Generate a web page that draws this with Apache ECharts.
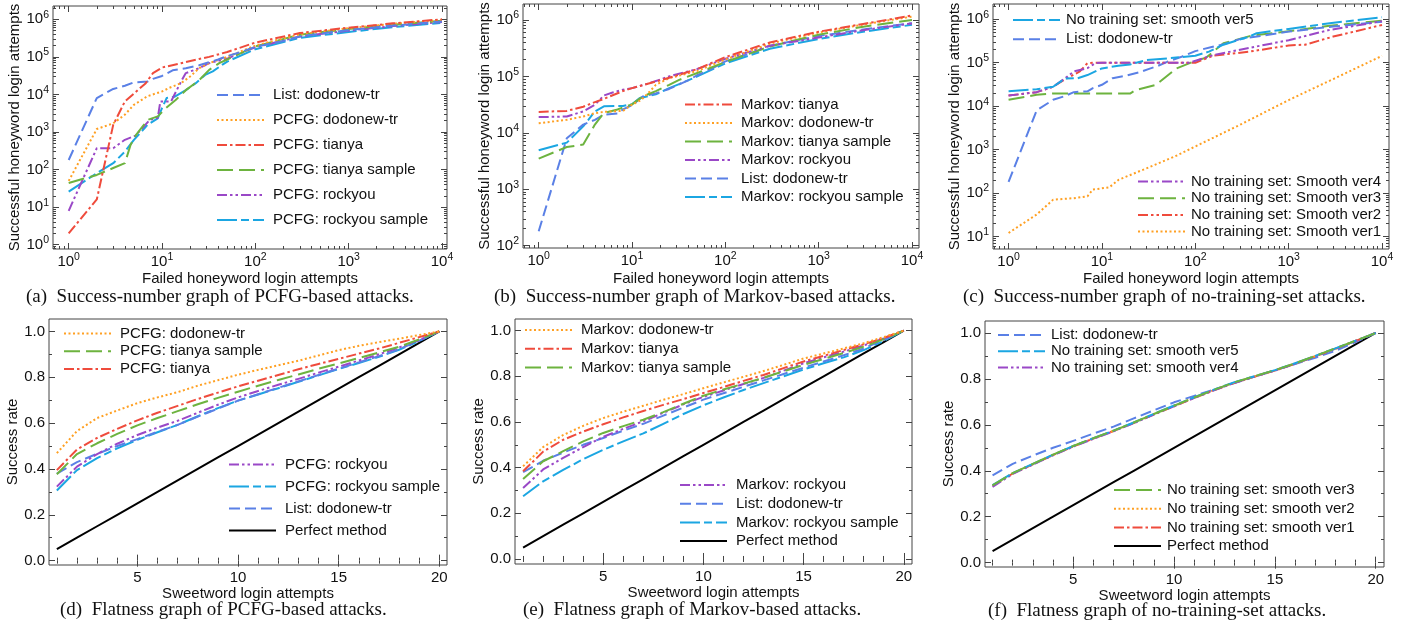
<!DOCTYPE html>
<html><head><meta charset="utf-8">
<script src="https://cdn.jsdelivr.net/npm/echarts@6/dist/echarts.min.js"></script>
<style>html,body{margin:0;padding:0;background:#fff}#c{width:1411px;height:627px}</style>
</head><body><div id="c"></div>
<script>
// ---------------- DATA ----------------
// Success-number graphs: [failed attempts, successful attempts]
const listSN = [[1,180],[2,8000],[3,14000],[4,17000],[5,21000],[7,22000],[8,26000],[10,31000],[13,44000],[18,50000],[25,60000],[32,72000],[40,85000],[50,105000],[70,135000],[100,185000],[150,230000],[200,265000],[300,350000],[1000,520000],[3000,680000],[10000,880000]];
// (a) PCFG
const pcfgDodonew = [[1,50],[2,1200],[3,1700],[4,2900],[5,5300],[7,9000],[10,12000],[12,15000],[16,20000],[20,30000],[25,50000],[32,68000],[50,100000],[100,200000],[300,400000],[1000,580000],[3000,760000],[10000,970000]];
const pcfgTianya = [[1,2],[2,16],[3,1550],[4,6500],[5,10500],[6.7,20000],[8,37000],[10,52000],[16,68000],[25,88000],[32,100000],[50,135000],[100,240000],[300,430000],[1000,600000],[3000,780000],[10000,1000000]];
const pcfgTianyaS = [[1,44],[2,72],[3,110],[4,148],[4.6,450],[5.2,800],[6,1260],[7,2100],[9,2600],[11,4300],[14,7100],[18,13000],[25,24000],[32,45000],[41,68000],[50,85000],[100,190000],[300,390000],[1000,550000],[3000,720000],[10000,920000]];
const pcfgRockyou = [[1,8],[2,370],[3,370],[4,620],[5.2,800],[7.4,2100],[9,2400],[9.6,6500],[12.5,6500],[16,22000],[18,37000],[25,50000],[32,68000],[50,90000],[100,180000],[300,350000],[1000,500000],[3000,660000],[10000,850000]];
const pcfgRockyouS = [[1,26],[2,80],[3,148],[4,300],[5,620],[7,1550],[9,2300],[10,4300],[11.2,8000],[13.7,8700],[18,13000],[23,20000],[29,33000],[35,41000],[44,61000],[50,75000],[100,160000],[300,320000],[1000,460000],[3000,620000],[10000,800000]];
// (b) Markov
const markovTianya = [[1,23500],[2,24500],[3,29000],[4,35000],[5,40000],[8,55000],[10,62000],[20,85000],[32,107000],[50,135000],[100,220000],[300,400000],[1000,620000],[3000,850000],[10000,1200000]];
const markovDodonew = [[1,14800],[2,17000],[3,19500],[4,22300],[5,23500],[8,24500],[10,31500],[12.5,38000],[15.5,54000],[18,71000],[25,93000],[50,125000],[100,200000],[300,380000],[1000,600000],[3000,830000],[10000,1150000]];
const markovTianyaS = [[1,3500],[2,5600],[3,6200],[4,14000],[4.5,18000],[5,22500],[7,26000],[10,32000],[13,44000],[18,55000],[25,71000],[32,87000],[50,115000],[100,180000],[300,340000],[1000,550000],[3000,760000],[10000,1000000]];
const markovRockyou = [[1,19000],[2,19500],[3,24000],[4,31500],[5,46000],[6.2,52000],[8,58000],[10,62000],[15.4,76000],[19.6,87000],[25,100000],[50,135000],[100,205000],[300,350000],[1000,490000],[3000,660000],[10000,870000]];
const markovRockyouS = [[1,4900],[2,6700],[3,13000],[4,24000],[5,29500],[8,30000],[10,32000],[12,41000],[18,48000],[25,62000],[32,73000],[50,100000],[100,170000],[300,310000],[1000,460000],[3000,620000],[10000,820000]];
// (c) no training set
const noTrainV5 = [[1,22000],[2,24500],[3,28000],[4,43000],[5.5,44000],[7,52000],[10,74000],[15,85000],[20,91000],[30,115000],[50,126000],[100,145000],[140,180000],[200,260000],[380,400000],[455,480000],[1000,600000],[2750,810000],[10000,1120000]];
const noTrainV4 = [[1,17500],[2,21000],[3,28000],[4,43000],[5,63000],[7,75000],[8.5,98000],[10,100000],[87,100000],[156,150000],[380,220000],[1000,330000],[2750,570000],[10000,900000]];
const noTrainV3 = [[1,14000],[2,18300],[3,19500],[20,19500],[23,23500],[38,31000],[49,48000],[63,74000],[100,110000],[130,130000],[200,280000],[400,420000],[1000,530000],[2750,710000],[10000,930000]];
const noTrainV2 = [[1,17500],[2,21000],[3,28000],[4,41000],[5.8,63000],[7,98000],[8,100000],[100,100000],[156,145000],[380,180000],[1000,250000],[1500,260000],[3000,400000],[10000,740000]];
const noTrainV1 = [[1,12],[2,32],[3,70],[5,76],[7,84],[8,120],[12,135],[15,200],[30,370],[60,690],[100,1180],[300,3700],[1000,13800],[3000,42000],[10000,144000]];

// Flatness graphs: success rate at sweetword attempts 1..20
const flatX = [1,2,3,4,5,6,7,8,9,10,11,12,13,14,15,16,17,18,19,20];
const perfectF = [0.05,0.10,0.15,0.20,0.25,0.30,0.35,0.40,0.45,0.50,0.55,0.60,0.65,0.70,0.75,0.80,0.85,0.90,0.95,1.00];
const listF = [0.38,0.43,0.466,0.5,0.53,0.562,0.592,0.628,0.663,0.698,0.726,0.754,0.782,0.81,0.838,0.865,0.892,0.922,0.96,1.0];
const pcfgDodonewF = [0.469,0.565,0.622,0.655,0.687,0.712,0.735,0.763,0.787,0.811,0.832,0.852,0.872,0.895,0.918,0.937,0.953,0.968,0.984,1.0];
const pcfgTianyaF = [0.395,0.485,0.535,0.575,0.612,0.645,0.675,0.705,0.733,0.76,0.785,0.81,0.835,0.858,0.88,0.903,0.925,0.95,0.975,1.0];
const pcfgTianyaSF = [0.377,0.465,0.512,0.553,0.59,0.622,0.652,0.682,0.71,0.737,0.763,0.788,0.812,0.837,0.86,0.884,0.908,0.933,0.965,1.0];
const pcfgRockyouF = [0.323,0.41,0.465,0.51,0.548,0.58,0.61,0.645,0.68,0.712,0.74,0.767,0.793,0.82,0.846,0.873,0.9,0.93,0.962,1.0];
const pcfgRockyouSF = [0.306,0.395,0.447,0.49,0.527,0.56,0.592,0.63,0.665,0.698,0.725,0.752,0.78,0.808,0.836,0.862,0.889,0.92,0.958,1.0];
const markovDodonewF = [0.406,0.49,0.543,0.583,0.617,0.645,0.671,0.697,0.722,0.748,0.773,0.798,0.823,0.85,0.878,0.9,0.922,0.945,0.972,1.0];
const markovTianyaF = [0.384,0.47,0.522,0.558,0.59,0.62,0.648,0.675,0.70,0.727,0.753,0.78,0.806,0.836,0.865,0.89,0.915,0.94,0.968,1.0];
const markovTianyaSF = [0.35,0.428,0.472,0.515,0.552,0.582,0.61,0.643,0.68,0.715,0.742,0.768,0.793,0.822,0.85,0.876,0.902,0.93,0.963,1.0];
const markovRockyouF = [0.311,0.392,0.443,0.49,0.535,0.57,0.603,0.64,0.677,0.71,0.738,0.766,0.793,0.825,0.857,0.883,0.908,0.935,0.966,1.0];
const markovRockyouSF = [0.275,0.34,0.39,0.437,0.478,0.515,0.55,0.592,0.635,0.673,0.707,0.74,0.77,0.8,0.83,0.857,0.883,0.915,0.955,1.0];
const smoothV5F = [0.337,0.39,0.43,0.47,0.508,0.542,0.575,0.61,0.648,0.684,0.72,0.754,0.786,0.812,0.838,0.868,0.9,0.933,0.966,1.0];
const smoothV4F = [0.33,0.386,0.427,0.467,0.505,0.539,0.572,0.607,0.645,0.681,0.717,0.751,0.783,0.81,0.836,0.866,0.898,0.931,0.965,1.0];
const smoothV3F = [0.336,0.39,0.43,0.47,0.508,0.542,0.575,0.61,0.647,0.683,0.719,0.753,0.785,0.812,0.838,0.868,0.9,0.933,0.966,1.0];
const smoothV2F = [0.335,0.389,0.429,0.469,0.507,0.541,0.574,0.609,0.646,0.682,0.718,0.752,0.784,0.811,0.837,0.867,0.899,0.932,0.966,1.0];
const smoothV1F = [0.334,0.388,0.428,0.468,0.506,0.54,0.573,0.608,0.645,0.681,0.717,0.751,0.783,0.81,0.836,0.866,0.898,0.931,0.965,1.0];

// Tick labels
const logXTicks = [1,10,100,1000,10000];
const yTicksA = [1,10,100,1000,10000,100000,1000000];
const yTicksB = [100,1000,10000,100000,1000000];
const yTicksC = [10,100,1000,10000,100000,1000000];
const flatXTicks = [5,10,15,20];
const flatXMinor = [1,2,3,4,6,7,8,9,11,12,13,14,16,17,18,19];
const flatYTicks = [0,0.2,0.4,0.6,0.8,1.0];
const flatYMinor = [0.1,0.3,0.5,0.7,0.9];

// ---------------- STYLE ----------------
const COL = {blue:'#5a80e6', orange:'#ffa023', red:'#ef4b3c', green:'#6db33f', purple:'#9a48c7', cyan:'#1ba6e2', black:'#000000'};
const DASH = {list:[11,5], dot:[2,2.5], dashdot:[10,3,2.5,3], dashdotdot:[10,3,2.5,3,2.5,3], long:[16,6], longshort:[20,4,8,4], solid:'solid'};
const zipF = v => flatX.map((x,i)=>[x, v[i]]);

function minorLog(lo, hi){
  const out=[];
  for(let e=Math.floor(Math.log10(lo)); e<=Math.ceil(Math.log10(hi)); e++){
    for(let k=2;k<=9;k++){ const v=+(k*Math.pow(10,e)).toPrecision(6); if(v>lo && v<hi) out.push(v); }
  }
  return out;
}

const panels = [
 {grid:{left:53,top:6,width:394,height:243}, type:'log', xr:[0.679,11320], yr:[0.769,2.26e6], xt:logXTicks, yt:yTicksA,
  xName:'Failed honeyword login attempts', yName:'Successful honeyword login attempts', xGap:22, yGap:30, xMargin:3,
  series:[
   ['PCFG: rockyou sample', pcfgRockyouS, COL.cyan, DASH.longshort],
   ['PCFG: rockyou', pcfgRockyou, COL.purple, DASH.dashdotdot],
   ['PCFG: tianya sample', pcfgTianyaS, COL.green, DASH.long],
   ['PCFG: dodonew-tr', pcfgDodonew, COL.orange, DASH.dot],
   ['List: dodonew-tr', listSN, COL.blue, DASH.list],
   ['PCFG: tianya', pcfgTianya, COL.red, DASH.dashdot]],
  legends:[{names:['List: dodonew-tr','PCFG: dodonew-tr','PCFG: tianya','PCFG: tianya sample','PCFG: rockyou','PCFG: rockyou sample'], left:216, top:87.5, gap:10}],
  caption:{text:'(a)  Success-number graph of PCFG-based attacks.', left:26, top:288}},
 {grid:{left:523,top:4,width:396,height:244}, type:'log', xr:[0.679,11890], yr:[91,1.92e6], xt:logXTicks, yt:yTicksB,
  xName:'Failed honeyword login attempts', yName:'Successful honeyword login attempts', xGap:23, yGap:29, xMargin:3,
  series:[
   ['Markov: rockyou sample', markovRockyouS, COL.cyan, DASH.longshort],
   ['List: dodonew-tr', listSN, COL.blue, DASH.list],
   ['Markov: tianya sample', markovTianyaS, COL.green, DASH.long],
   ['Markov: rockyou', markovRockyou, COL.purple, DASH.dashdotdot],
   ['Markov: dodonew-tr', markovDodonew, COL.orange, DASH.dot],
   ['Markov: tianya', markovTianya, COL.red, DASH.dashdot]],
  legends:[{names:['Markov: tianya','Markov: dodonew-tr','Markov: tianya sample','Markov: rockyou','List: dodonew-tr','Markov: rockyou sample'], left:684, top:97, gap:3.5}],
  caption:{text:'(b)  Success-number graph of Markov-based attacks.', left:494, top:288}},
 {grid:{left:993,top:4,width:396,height:245}, type:'log', xr:[0.681,11880], yr:[5.13,2.25e6], xt:logXTicks, yt:yTicksC,
  xName:'Failed honeyword login attempts', yName:'Successful honeyword login attempts', xGap:22, yGap:28.5, xMargin:3,
  series:[
   ['No training set: Smooth ver1', noTrainV1, COL.orange, DASH.dot],
   ['No training set: Smooth ver3', noTrainV3, COL.green, DASH.long],
   ['List: dodonew-tr', listSN, COL.blue, DASH.list],
   ['No training set: Smooth ver2', noTrainV2, COL.red, DASH.dashdotdot],
   ['No training set: Smooth ver4', noTrainV4, COL.purple, DASH.dashdotdot],
   ['No training set: smooth ver5', noTrainV5, COL.cyan, DASH.longshort]],
  legends:[{names:['No training set: smooth ver5','List: dodonew-tr'], left:1012, top:12.5, gap:4.3, pad:1},
           {names:['No training set: Smooth ver4','No training set: Smooth ver3','No training set: Smooth ver2','No training set: Smooth ver1'], left:1137, top:174, gap:1.7, pad:1}],
  caption:{text:'(c)  Success-number graph of no-training-set attacks.', left:963, top:288}},
 {grid:{left:49,top:319,width:398,height:246}, type:'value', xr:[0.61,20.38], yr:[-0.019,1.054], xt:flatXTicks, yt:flatYTicks,
  xName:'Sweetword login attempts', yName:'Success rate', xGap:21, yGap:28, xMargin:5,
  series:[
   ['Perfect method', zipF(perfectF), COL.black, DASH.solid],
   ['PCFG: rockyou sample', zipF(pcfgRockyouSF), COL.cyan, DASH.longshort],
   ['List: dodonew-tr', zipF(listF), COL.blue, DASH.list],
   ['PCFG: rockyou', zipF(pcfgRockyouF), COL.purple, DASH.dashdotdot],
   ['PCFG: tianya sample', zipF(pcfgTianyaSF), COL.green, DASH.long],
   ['PCFG: tianya', zipF(pcfgTianyaF), COL.red, DASH.dashdot],
   ['PCFG: dodonew-tr', zipF(pcfgDodonewF), COL.orange, DASH.dot]],
  legends:[{names:['PCFG: dodonew-tr','PCFG: tianya sample','PCFG: tianya'], left:63, top:326, gap:2.8},
           {names:['PCFG: rockyou','PCFG: rockyou sample','List: dodonew-tr','Perfect method'], left:228, top:457, gap:7}],
  caption:{text:'(d)  Flatness graph of PCFG-based attacks.', left:60, top:601}},
 {grid:{left:515,top:319,width:397,height:245}, type:'value', xr:[0.596,20.41], yr:[-0.022,1.051], xt:flatXTicks, yt:flatYTicks,
  xName:'Sweetword login attempts', yName:'Success rate', xGap:21.5, yGap:29, xMargin:5,
  series:[
   ['Perfect method', zipF(perfectF), COL.black, DASH.solid],
   ['Markov: rockyou sample', zipF(markovRockyouSF), COL.cyan, DASH.longshort],
   ['List: dodonew-tr', zipF(listF), COL.blue, DASH.list],
   ['Markov: rockyou', zipF(markovRockyouF), COL.purple, DASH.dashdotdot],
   ['Markov: tianya sample', zipF(markovTianyaSF), COL.green, DASH.long],
   ['Markov: tianya', zipF(markovTianyaF), COL.red, DASH.dashdot],
   ['Markov: dodonew-tr', zipF(markovDodonewF), COL.orange, DASH.dot]],
  legends:[{names:['Markov: dodonew-tr','Markov: tianya','Markov: tianya sample'], left:524, top:322.5, gap:3.7},
           {names:['Markov: rockyou','List: dodonew-tr','Markov: rockyou sample','Perfect method'], left:679, top:477.5, gap:3.7}],
  caption:{text:'(e)  Flatness graph of Markov-based attacks.', left:523, top:601}},
 {grid:{left:985,top:321,width:399,height:246}, type:'value', xr:[0.625,20.41], yr:[-0.019,1.052], xt:flatXTicks, yt:flatYTicks,
  xName:'Sweetword login attempts', yName:'Success rate', xGap:21, yGap:28, xMargin:5,
  series:[
   ['Perfect method', zipF(perfectF), COL.black, DASH.solid],
   ['List: dodonew-tr', zipF(listF), COL.blue, DASH.list],
   ['No training set: smooth ver1', zipF(smoothV1F), COL.red, DASH.dashdot],
   ['No training set: smooth ver2', zipF(smoothV2F), COL.orange, DASH.dot],
   ['No training set: smooth ver4', zipF(smoothV4F), COL.purple, DASH.dashdotdot],
   ['No training set: smooth ver5', zipF(smoothV5F), COL.cyan, DASH.longshort],
   ['No training set: smooth ver3', zipF(smoothV3F), COL.green, DASH.long]],
  legends:[{names:['List: dodonew-tr','No training set: smooth ver5','No training set: smooth ver4'], left:997, top:327.5, gap:1.3, pad:1},
           {names:['No training set: smooth ver3','No training set: smooth ver2','No training set: smooth ver1','Perfect method'], left:1113, top:482.5, gap:3.7, pad:1}],
  caption:{text:'(f)  Flatness graph of no-training-set attacks.', left:988, top:602}}
];

// ---------------- BUILD ----------------
const option = {animation:false, backgroundColor:'#ffffff', textStyle:{fontFamily:'Liberation Sans'},
  grid:[], xAxis:[], yAxis:[], series:[], legend:[], title:[]};
const AXC = '#444';
const logFmt = v => '{b|10}{s|' + Math.round(Math.log10(v)) + '}';
const richLog = {b:{fontSize:15, lineHeight:20, color:'#111'}, s:{fontSize:10.5, lineHeight:10, verticalAlign:'top', color:'#111'}};

panels.forEach((p, gi) => {
  option.grid.push(Object.assign({show:true, borderColor:AXC, borderWidth:1, backgroundColor:'transparent'}, p.grid));
  const isLog = p.type === 'log';
  const xMinor = isLog ? minorLog(p.xr[0], p.xr[1]) : flatXMinor;
  const yMinor = isLog ? minorLog(p.yr[0], p.yr[1]) : flatYMinor;
  const mk = (dim, pos, ticks, len, labels, extra) => {
    const r = dim === 'x' ? p.xr : p.yr;
    const ax = {gridIndex:gi, type:p.type, min:r[0], max:r[1], position:pos,
      axisLine:{show:false}, splitLine:{show:false}, minorTick:{show:false},
      axisTick:{show:true, inside:true, length:len, customValues:ticks, lineStyle:{color:AXC, width:1}},
      axisLabel:{show:false}};
    if (isLog) ax.logBase = 10;
    if (labels) {
      ax.axisLabel = {show:true, customValues:ticks, fontSize:15, color:'#111', hideOverlap:false,
        margin: dim === 'x' ? p.xMargin : 4};
      if (isLog) { ax.axisLabel.formatter = logFmt; ax.axisLabel.rich = richLog; }
      else ax.axisLabel.formatter = dim === 'x' ? (v => String(v)) : (v => v.toFixed(1));
    }
    Object.assign(ax, extra || {});
    const arr = dim === 'x' ? option.xAxis : option.yAxis;
    arr.push(ax);
    return arr.length - 1;
  };
  const xi = mk('x','bottom', p.xt, 6, true, {name:p.xName, nameLocation:'middle', nameGap:p.xGap, nameTextStyle:{fontSize:15, color:'#111'}});
  mk('x','bottom', xMinor, 3, false);
  mk('x','top', p.xt, 6, false);
  mk('x','top', xMinor, 3, false);
  const yi = mk('y','left', p.yt, 6, true, {name:p.yName, nameLocation:'middle', nameGap:p.yGap, nameRotate:90, nameTextStyle:{fontSize:15, color:'#111'}});
  mk('y','left', yMinor, 3, false);
  mk('y','right', p.yt, 6, false);
  mk('y','right', yMinor, 3, false);

  p.series.forEach(s => {
    option.series.push({type:'line', name:s[0], data:s[1], xAxisIndex:xi, yAxisIndex:yi,
      showSymbol:false, symbol:'none', smooth:false, silent:true, clip:true,
      lineStyle:{color:s[2], width:2, type:s[3], cap:'butt', join:'round'}, itemStyle:{color:s[2]}});
  });
  p.legends.forEach(l => {
    option.legend.push({show:true, orient:'vertical', left:l.left, top:l.top, padding:0, itemGap:l.gap,
      itemWidth:47, itemHeight:14, selectedMode:false, data:l.names,
      itemStyle:{opacity:0}, lineStyle:{width:2},
      textStyle:{fontSize:15, color:'#111', padding:[0,0,0, l.pad != null ? l.pad : 4]}});
  });
  option.title.push({text:p.caption.text, left:p.caption.left, top:p.caption.top, padding:0,
    textStyle:{fontFamily:'Liberation Serif', fontSize:19, fontWeight:'normal', color:'#111'}});
});

const chart = echarts.init(document.getElementById('c'), null, {renderer:'canvas'});
chart.setOption(option);
</script></body></html>
